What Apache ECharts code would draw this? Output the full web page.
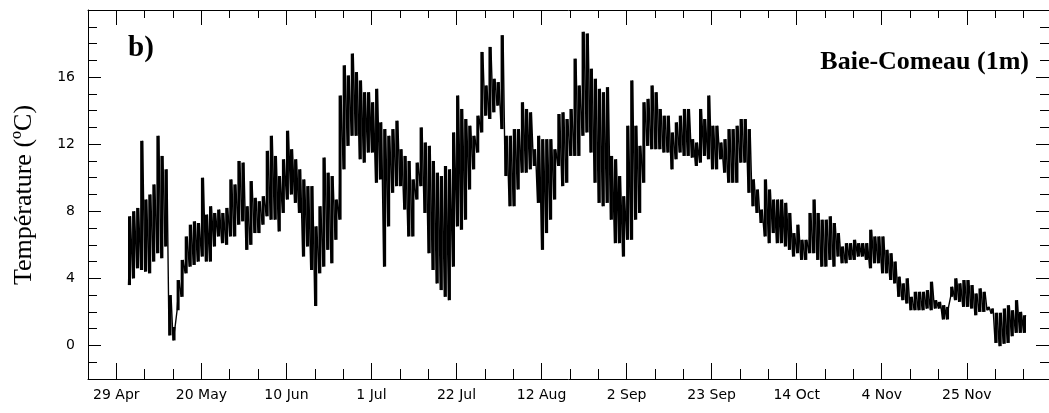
<!DOCTYPE html>
<html><head><meta charset="utf-8">
<script src="https://cdn.jsdelivr.net/npm/echarts@6/dist/echarts.min.js"></script>
<style>html,body{margin:0;padding:0;background:#fff}#c{width:1049px;height:413px}</style>
</head><body><div id="c"></div>
<script>
// Day offsets are counted from 29 Apr (day 0). One low and one high reading per day.
const firstDay = 3;
const dailyLow = [
3.6,4.0,4.6,4.5,4.4,4.3,5.0,5.5,5.2,5.9,
0.6,0.3,2.1,2.9,4.3,4.7,4.8,5.0,5.3,5.0,
5.0,5.9,6.5,6.1,6.0,6.5,6.5,7.2,7.4,5.7,
6.0,6.7,6.7,7.2,7.7,7.5,7.5,6.8,7.9,8.7,
9.0,8.5,7.9,5.3,5.9,4.5,2.35,4.3,4.7,5.7,
4.9,6.3,7.5,10.5,11.9,12.5,12.5,11.1,10.9,11.5,
11.5,9.7,9.9,4.7,7.1,9.1,9.5,9.5,8.1,6.5,
6.5,8.7,9.5,7.9,5.5,4.5,3.7,3.3,2.9,2.7,
4.7,7.1,6.9,7.5,9.3,10.5,11.5,12.7,13.7,13.5,
13.9,14.3,12.9,10.1,8.3,8.3,9.3,10.3,10.3,10.5,
10.7,8.5,5.7,6.7,7.5,8.7,10.7,9.5,9.7,11.3,
11.3,11.3,12.5,12.7,11.5,9.7,8.5,8.3,8.5,7.5,
6.1,6.1,5.3,6.3,6.3,7.5,7.9,9.7,11.9,11.7,
11.7,11.7,11.5,11.5,10.5,11.1,11.5,11.3,11.3,11.2,
10.7,10.9,11.3,11.1,10.5,10.5,11.1,10.3,9.7,9.7,
9.7,10.9,10.9,9.1,8.3,7.9,7.3,6.5,6.1,6.7,
6.1,6.1,5.9,5.7,5.3,5.5,5.1,5.1,5.5,5.5,
5.1,4.7,4.7,5.1,4.7,5.3,4.9,4.9,5.1,5.1,
5.3,5.3,5.1,4.6,4.9,4.9,4.3,4.3,3.9,3.7,
2.9,2.7,2.5,2.1,2.1,2.1,2.1,2.2,2.1,2.2,
2.2,1.55,1.55,2.9,2.7,2.6,2.3,2.3,2.2,1.8,
2.0,2.0,2.1,1.9,0.15,-0.04,0.1,0.15,0.55,0.75,
0.75,0.75
];
const dailyHigh = [
7.7,8.0,8.2,12.2,8.7,9.0,9.6,12.5,11.3,10.5,
3.0,1.1,3.9,5.1,6.5,7.2,7.4,7.3,10.0,7.8,
8.3,7.9,8.1,7.9,8.2,9.9,9.6,11.0,10.9,8.3,
9.8,8.8,8.6,8.9,11.6,12.5,11.3,10.1,11.1,12.8,
11.7,11.1,10.5,9.9,9.5,9.5,7.1,8.3,11.2,10.3,
10.1,8.7,14.9,16.7,16.1,17.4,16.3,15.8,15.1,15.1,
14.5,15.3,13.3,12.9,12.5,12.9,13.4,11.7,11.3,11.0,
9.9,10.9,13.0,12.1,11.9,11.0,10.3,10.1,10.7,10.5,
12.7,14.9,14.1,13.5,13.1,12.5,13.7,17.5,15.5,17.8,
15.9,15.7,18.5,12.5,12.5,12.9,12.9,14.5,14.1,13.9,
11.7,12.5,12.3,12.3,12.3,11.7,13.8,13.9,13.5,14.1,
17.1,15.5,18.7,18.6,16.5,15.9,15.3,15.1,15.4,11.3,
11.1,10.1,8.9,13.1,15.8,13.1,11.9,14.5,14.7,15.5,
15.1,14.1,13.7,13.7,12.7,13.3,13.7,14.1,14.1,12.3,
12.1,14.1,13.5,14.9,13.1,13.1,12.1,12.3,12.9,12.9,
13.1,13.5,13.5,12.9,9.9,9.3,8.1,9.9,9.3,8.7,
8.7,8.7,8.5,7.9,6.7,7.2,6.3,6.3,7.9,8.7,
7.9,7.5,7.5,7.7,7.3,6.7,5.9,6.1,6.1,6.3,
6.1,6.1,6.1,6.9,6.5,6.5,6.5,5.7,5.5,5.0,
4.1,3.7,4.0,2.9,3.2,3.2,3.2,3.3,3.8,2.7,
2.6,2.4,2.3,3.5,4.0,3.7,3.9,3.9,3.6,3.1,
3.4,3.2,2.3,2.2,1.95,1.95,2.2,2.4,2.1,2.7,
2.0,1.8
];
const tickDays = [0,21,42,63,84,105,126,147,168,189,210];
const tickLabels = ['29 Apr','20 May','10 Jun','1 Jul','22 Jul','12 Aug','2 Sep','23 Sep','14 Oct','4 Nov','25 Nov'];
const yMajor = [0,4,8,12,16];
const yMajorLabels = ['0','4','8','12','16'];

const X_MIN = -7, X_MAX = 230.3, Y_MIN = -2, Y_MAX = 20;
const weekDays = []; for (let d = -7; d <= 228; d += 7) weekDays.push(d);
const yMinor = []; for (let v = -1; v <= 19; v++) yMinor.push(v);

// zig-zag trace: low then high for each day
const pts = [];
dailyLow.forEach((lo, i) => {
  const d = firstDay + i;
  pts.push([d, lo]);
  pts.push([d + 0.5, dailyHigh[i]]);
});
// daily range strokes
const ranges = dailyLow.map((lo, i) => [firstDay + i + 0.25, lo, dailyHigh[i]]);

const black = '#000';
function xAx(pos, ticks, len, line, labels) {
  return {
    type: 'value', min: X_MIN, max: X_MAX, position: pos,
    axisLine: { show: line, onZero: false, lineStyle: { color: black, width: 1 } },
    axisTick: { show: true, inside: true, length: len, customValues: ticks, lineStyle: { color: black, width: 1 } },
    axisLabel: labels ? {
      show: true, customValues: tickDays, margin: 9, color: black,
      fontFamily: 'DejaVu Sans', fontSize: 14,
      formatter: v => { const k = tickDays.indexOf(Math.round(v)); return k >= 0 ? tickLabels[k] : ''; }
    } : { show: false },
    splitLine: { show: false }
  };
}
function yAx(pos, ticks, len, line, labels) {
  return {
    type: 'value', min: Y_MIN, max: Y_MAX, position: pos,
    axisLine: { show: line, onZero: false, lineStyle: { color: black, width: 1 } },
    axisTick: { show: true, inside: true, length: len, customValues: ticks, lineStyle: { color: black, width: 1 } },
    axisLabel: labels ? {
      show: true, customValues: yMajor, margin: 13, color: black,
      fontFamily: 'DejaVu Sans', fontSize: 14,
      formatter: v => { const k = yMajor.indexOf(Math.round(v)); return k >= 0 ? yMajorLabels[k] : ''; }
    } : { show: false },
    splitLine: { show: false }
  };
}

const chart = echarts.init(document.getElementById('c'), null, { renderer: 'canvas' });
chart.setOption({
  animation: false,
  backgroundColor: '#fff',
  grid: { left: 88, top: 10, width: 964, height: 369 },
  xAxis: [
    xAx('bottom', tickDays, 16, true, true),
    xAx('bottom', weekDays, 10, false, false),
    xAx('top', tickDays, 15, true, false),
    xAx('top', weekDays, 8, false, false)
  ],
  yAxis: [
    yAx('left', yMajor, 13, true, true),
    yAx('left', yMinor, 9, false, false),
    yAx('right', yMajor, 13, true, false),
    yAx('right', yMinor, 9, false, false)
  ],
  series: [{
    type: 'custom', xAxisIndex: 0, yAxisIndex: 0, data: ranges,
    renderItem: (params, api) => {
      const a = api.coord([api.value(0), api.value(1)]);
      const b = api.coord([api.value(0), api.value(2)]);
      return { type: 'line', shape: { x1: a[0], y1: a[1], x2: b[0], y2: b[1] },
               style: { stroke: black, lineWidth: 3.0 } };
    }
  }, {
    type: 'line', xAxisIndex: 0, yAxisIndex: 0, data: pts,
    showSymbol: false, symbol: 'none', sampling: null,
    lineStyle: { color: black, width: 1.4 }, clip: true
  }],
  graphic: [
    { type: 'text', x: 128, y: 49, style: { text: 'b)', font: 'bold 29px "Liberation Serif"', fill: black, textAlign: 'left', textVerticalAlign: 'middle' } },
    { type: 'text', x: 1029, y: 62, style: { text: 'Baie-Comeau (1m)', font: 'bold 26px "Liberation Serif"', fill: black, textAlign: 'right', textVerticalAlign: 'middle' } },
    { type: 'text', x: 24, y: 195, rotation: Math.PI / 2, style: { text: 'Température (ºC)', font: '26px "Liberation Serif"', fill: black, textAlign: 'center', textVerticalAlign: 'middle' } }
  ]
});
</script></body></html>
